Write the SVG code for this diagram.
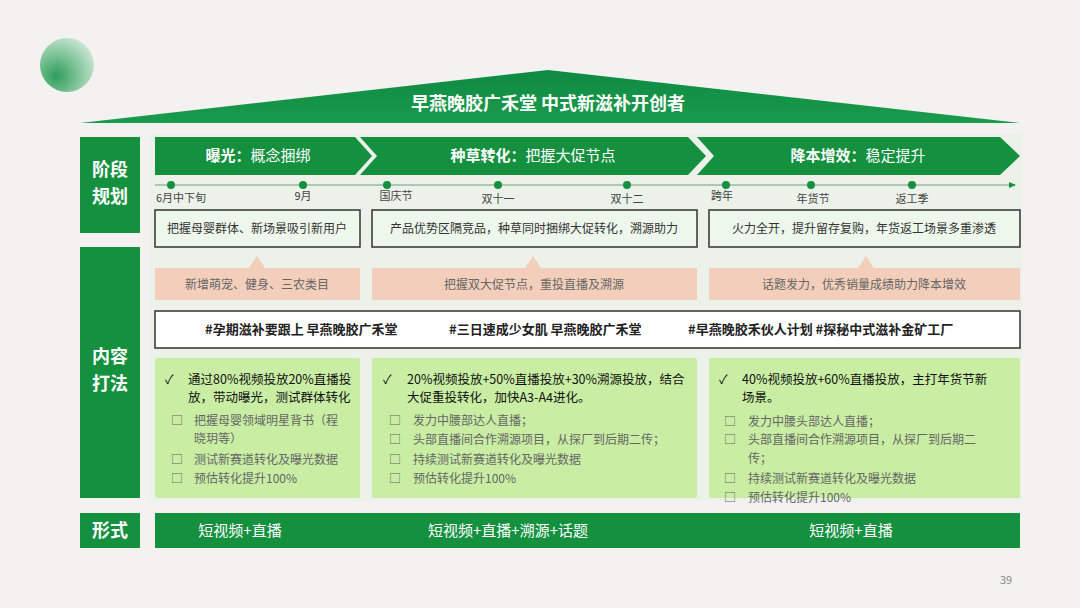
<svg xmlns="http://www.w3.org/2000/svg" width="1080" height="608" viewBox="0 0 1080 608">
<style>
text{font-family:"Noto Sans CJK SC","Liberation Sans",sans-serif}
.g{fill:#14903f}
.lbl{fill:#fff;font-size:18px;font-weight:bold;text-anchor:middle}
.ch{fill:#fff;font-size:15px;text-anchor:middle}
.tl{fill:#444;font-size:11px;text-anchor:middle}
.wb{fill:#eef7ec;stroke:#333;stroke-width:1.5}
.wt{fill:#333;font-size:12px;text-anchor:middle}
.pb{fill:#f3cfbb}
.pt{fill:#666;font-size:12px;text-anchor:middle}
.gb{fill:#c8eda3}
.ck{fill:#111;font-size:12.5px}
.bl{fill:#666;font-size:12px}
.ft{fill:#fff;font-size:15px;text-anchor:middle}
.dot{fill:#14903f}
</style>
<defs>
<radialGradient id="cg" cx="0.3" cy="0.7" r="0.8"><stop offset="0" stop-color="#2e9e5a"/><stop offset="1" stop-color="#cfe8d6"/></radialGradient>
<linearGradient id="rg" x1="0" y1="0" x2="0" y2="1"><stop offset="0" stop-color="#0e8a42"/><stop offset="1" stop-color="#1a9b4c"/></linearGradient>
<marker id="ar" markerWidth="8" markerHeight="8" refX="6" refY="4" orient="auto"><path d="M0,1 L7,4 L0,7 Z" fill="#14903f"/></marker>
</defs>
<rect width="1080" height="608" fill="#f4f2f0"/>
<circle cx="67" cy="65" r="27" fill="url(#cg)"/>
<g id="roof"><polygon points="80,123 548,70 1020,123" fill="url(#rg)"/>
<text x="548" y="110" fill="#fff" font-size="18" font-weight="bold" text-anchor="middle">早燕晚胶广禾堂 中式新滋补开创者</text></g>
<rect x="150" y="133" width="872" height="368" fill="#e6f1e6" opacity="0.6"/>
<g id="side1"><rect class="g" x="80" y="137" width="60" height="96"/><text class="lbl" x="110" y="176">阶段</text><text class="lbl" x="110" y="203">规划</text></g>
<g id="side2"><rect class="g" x="80" y="247" width="60" height="251"/><text class="lbl" x="110" y="363">内容</text><text class="lbl" x="110" y="390">打法</text></g>
<g id="side3"><rect class="g" x="80" y="513" width="60" height="35"/><text class="lbl" x="110" y="537">形式</text></g>
<g id="phase1"><polygon class="g" points="155,137 355,137 372,156 355,175 155,175"/><text class="ch" x="258" y="161" font-weight="bold">曝光：<tspan font-weight="normal">概念捆绑</tspan></text></g>
<g id="phase2"><polygon class="g" points="360,137 688,137 706,156 688,175 360,175 377,156"/><text class="ch" x="533" y="161" font-weight="bold">种草转化：<tspan font-weight="normal">把握大促节点</tspan></text></g>
<g id="phase3"><polygon class="g" points="697,137 1000,137 1020,156 1000,175 697,175 714,156"/><text class="ch" x="858" y="161" font-weight="bold">降本增效：<tspan font-weight="normal">稳定提升</tspan></text></g>
<g id="connectors"><line x1="155" y1="185" x2="1015" y2="185" stroke="#6a9e7a" stroke-width="1" marker-end="url(#ar)"/>
<path d="M249,268 L257,256 L265,268 Z M525,268 L533,256 L541,268 Z M858,268 L866,256 L874,268 Z" fill="#f3cfbb"/></g>
<g id="timeline">
<circle class="dot" cx="171" cy="185" r="4"/><circle class="dot" cx="303" cy="185" r="4"/><circle class="dot" cx="387" cy="185" r="4"/><circle class="dot" cx="498" cy="185" r="4"/><circle class="dot" cx="627" cy="185" r="4"/><circle class="dot" cx="726" cy="185" r="4"/><circle class="dot" cx="811" cy="185" r="4"/><circle class="dot" cx="912" cy="185" r="4"/>
<text class="tl" x="181" y="202">6月中下旬</text><text class="tl" x="303" y="200">9月</text><text class="tl" x="396" y="200">国庆节</text><text class="tl" x="498" y="203">双十一</text><text class="tl" x="627" y="203">双十二</text><text class="tl" x="722" y="200">跨年</text><text class="tl" x="813" y="203">年货节</text><text class="tl" x="912" y="203">返工季</text></g>
<g id="goal1"><rect class="wb" x="155" y="210" width="205" height="37"/><text class="wt" x="257" y="233">把握母婴群体、新场景吸引新用户</text></g>
<g id="goal2"><rect class="wb" x="372" y="210" width="325" height="37"/><text class="wt" x="534" y="233">产品优势区隔竞品，种草同时捆绑大促转化，溯源助力</text></g>
<g id="goal3"><rect class="wb" x="709" y="210" width="311" height="37"/><text class="wt" x="864" y="233">火力全开，提升留存复购，年货返工场景多重渗透</text></g>
<g id="tac1"><rect class="pb" x="155" y="268" width="205" height="32"/><text class="pt" x="257" y="289">新增萌宠、健身、三农类目</text></g>
<g id="tac2"><rect class="pb" x="372" y="268" width="325" height="32"/><text class="pt" x="534" y="289">把握双大促节点，重投直播及溯源</text></g>
<g id="tac3"><rect class="pb" x="709" y="268" width="311" height="32"/><text class="pt" x="864" y="289">话题发力，优秀销量成绩助力降本增效</text></g>
<g id="tags"><rect x="155" y="311" width="865" height="37" fill="#fff" stroke="#333" stroke-width="1.5"/>
<text x="205" y="334" fill="#222" font-size="13" font-weight="bold">#孕期滋补要跟上 早燕晚胶广禾堂</text>
<text x="449" y="334" fill="#222" font-size="13" font-weight="bold">#三日速成少女肌 早燕晚胶广禾堂</text>
<text x="688" y="334" fill="#222" font-size="13" font-weight="bold">#早燕晚胶禾伙人计划 #探秘中式滋补金矿工厂</text></g>
<g id="plan1"><rect class="gb" x="155" y="358" width="205" height="140" rx="2"/>
<text class="ck" x="165" y="384">✓</text><text class="ck" x="188" y="384">通过80%视频投放20%直播投</text><text class="ck" x="188" y="402">放，带动曝光，测试群体转化</text>
<text class="bl" x="171" y="425">□</text><text class="bl" x="194" y="425">把握母婴领域明星背书（程</text><text class="bl" x="194" y="443">晓玥等）</text>
<text class="bl" x="171" y="464">□</text><text class="bl" x="194" y="464">测试新赛道转化及曝光数据</text>
<text class="bl" x="171" y="483">□</text><text class="bl" x="194" y="483">预估转化提升100%</text></g>
<g id="plan2"><rect class="gb" x="372" y="358" width="325" height="140" rx="2"/>
<text class="ck" x="383" y="384">✓</text><text class="ck" x="407" y="384">20%视频投放+50%直播投放+30%溯源投放，结合</text><text class="ck" x="407" y="402">大促重投转化，加快A3-A4进化。</text>
<text class="bl" x="389" y="425">□</text><text class="bl" x="413" y="425">发力中腰部达人直播；</text>
<text class="bl" x="389" y="444">□</text><text class="bl" x="413" y="444">头部直播间合作溯源项目，从探厂到后期二传；</text>
<text class="bl" x="389" y="464">□</text><text class="bl" x="413" y="464">持续测试新赛道转化及曝光数据</text>
<text class="bl" x="389" y="483">□</text><text class="bl" x="413" y="483">预估转化提升100%</text></g>
<g id="plan3"><rect class="gb" x="709" y="358" width="311" height="140" rx="2"/>
<text class="ck" x="719" y="384">✓</text><text class="ck" x="742" y="384">40%视频投放+60%直播投放，主打年货节新</text><text class="ck" x="742" y="402">场景。</text>
<text class="bl" x="724" y="426">□</text><text class="bl" x="748" y="426">发力中腰头部达人直播；</text>
<text class="bl" x="724" y="444">□</text><text class="bl" x="748" y="444">头部直播间合作溯源项目，从探厂到后期二</text><text class="bl" x="748" y="463">传；</text>
<text class="bl" x="724" y="483">□</text><text class="bl" x="748" y="483">持续测试新赛道转化及曝光数据</text>
<text class="bl" x="724" y="502">□</text><text class="bl" x="748" y="502">预估转化提升100%</text></g>
<g id="form"><rect class="g" x="155" y="513" width="865" height="35"/>
<text class="ft" x="240" y="536">短视频+直播</text><text class="ft" x="508" y="536">短视频+直播+溯源+话题</text><text class="ft" x="851" y="536">短视频+直播</text></g>
<text x="1006" y="584" fill="#888" font-size="11" font-family="Liberation Sans,sans-serif" text-anchor="middle">39</text>
</svg>
